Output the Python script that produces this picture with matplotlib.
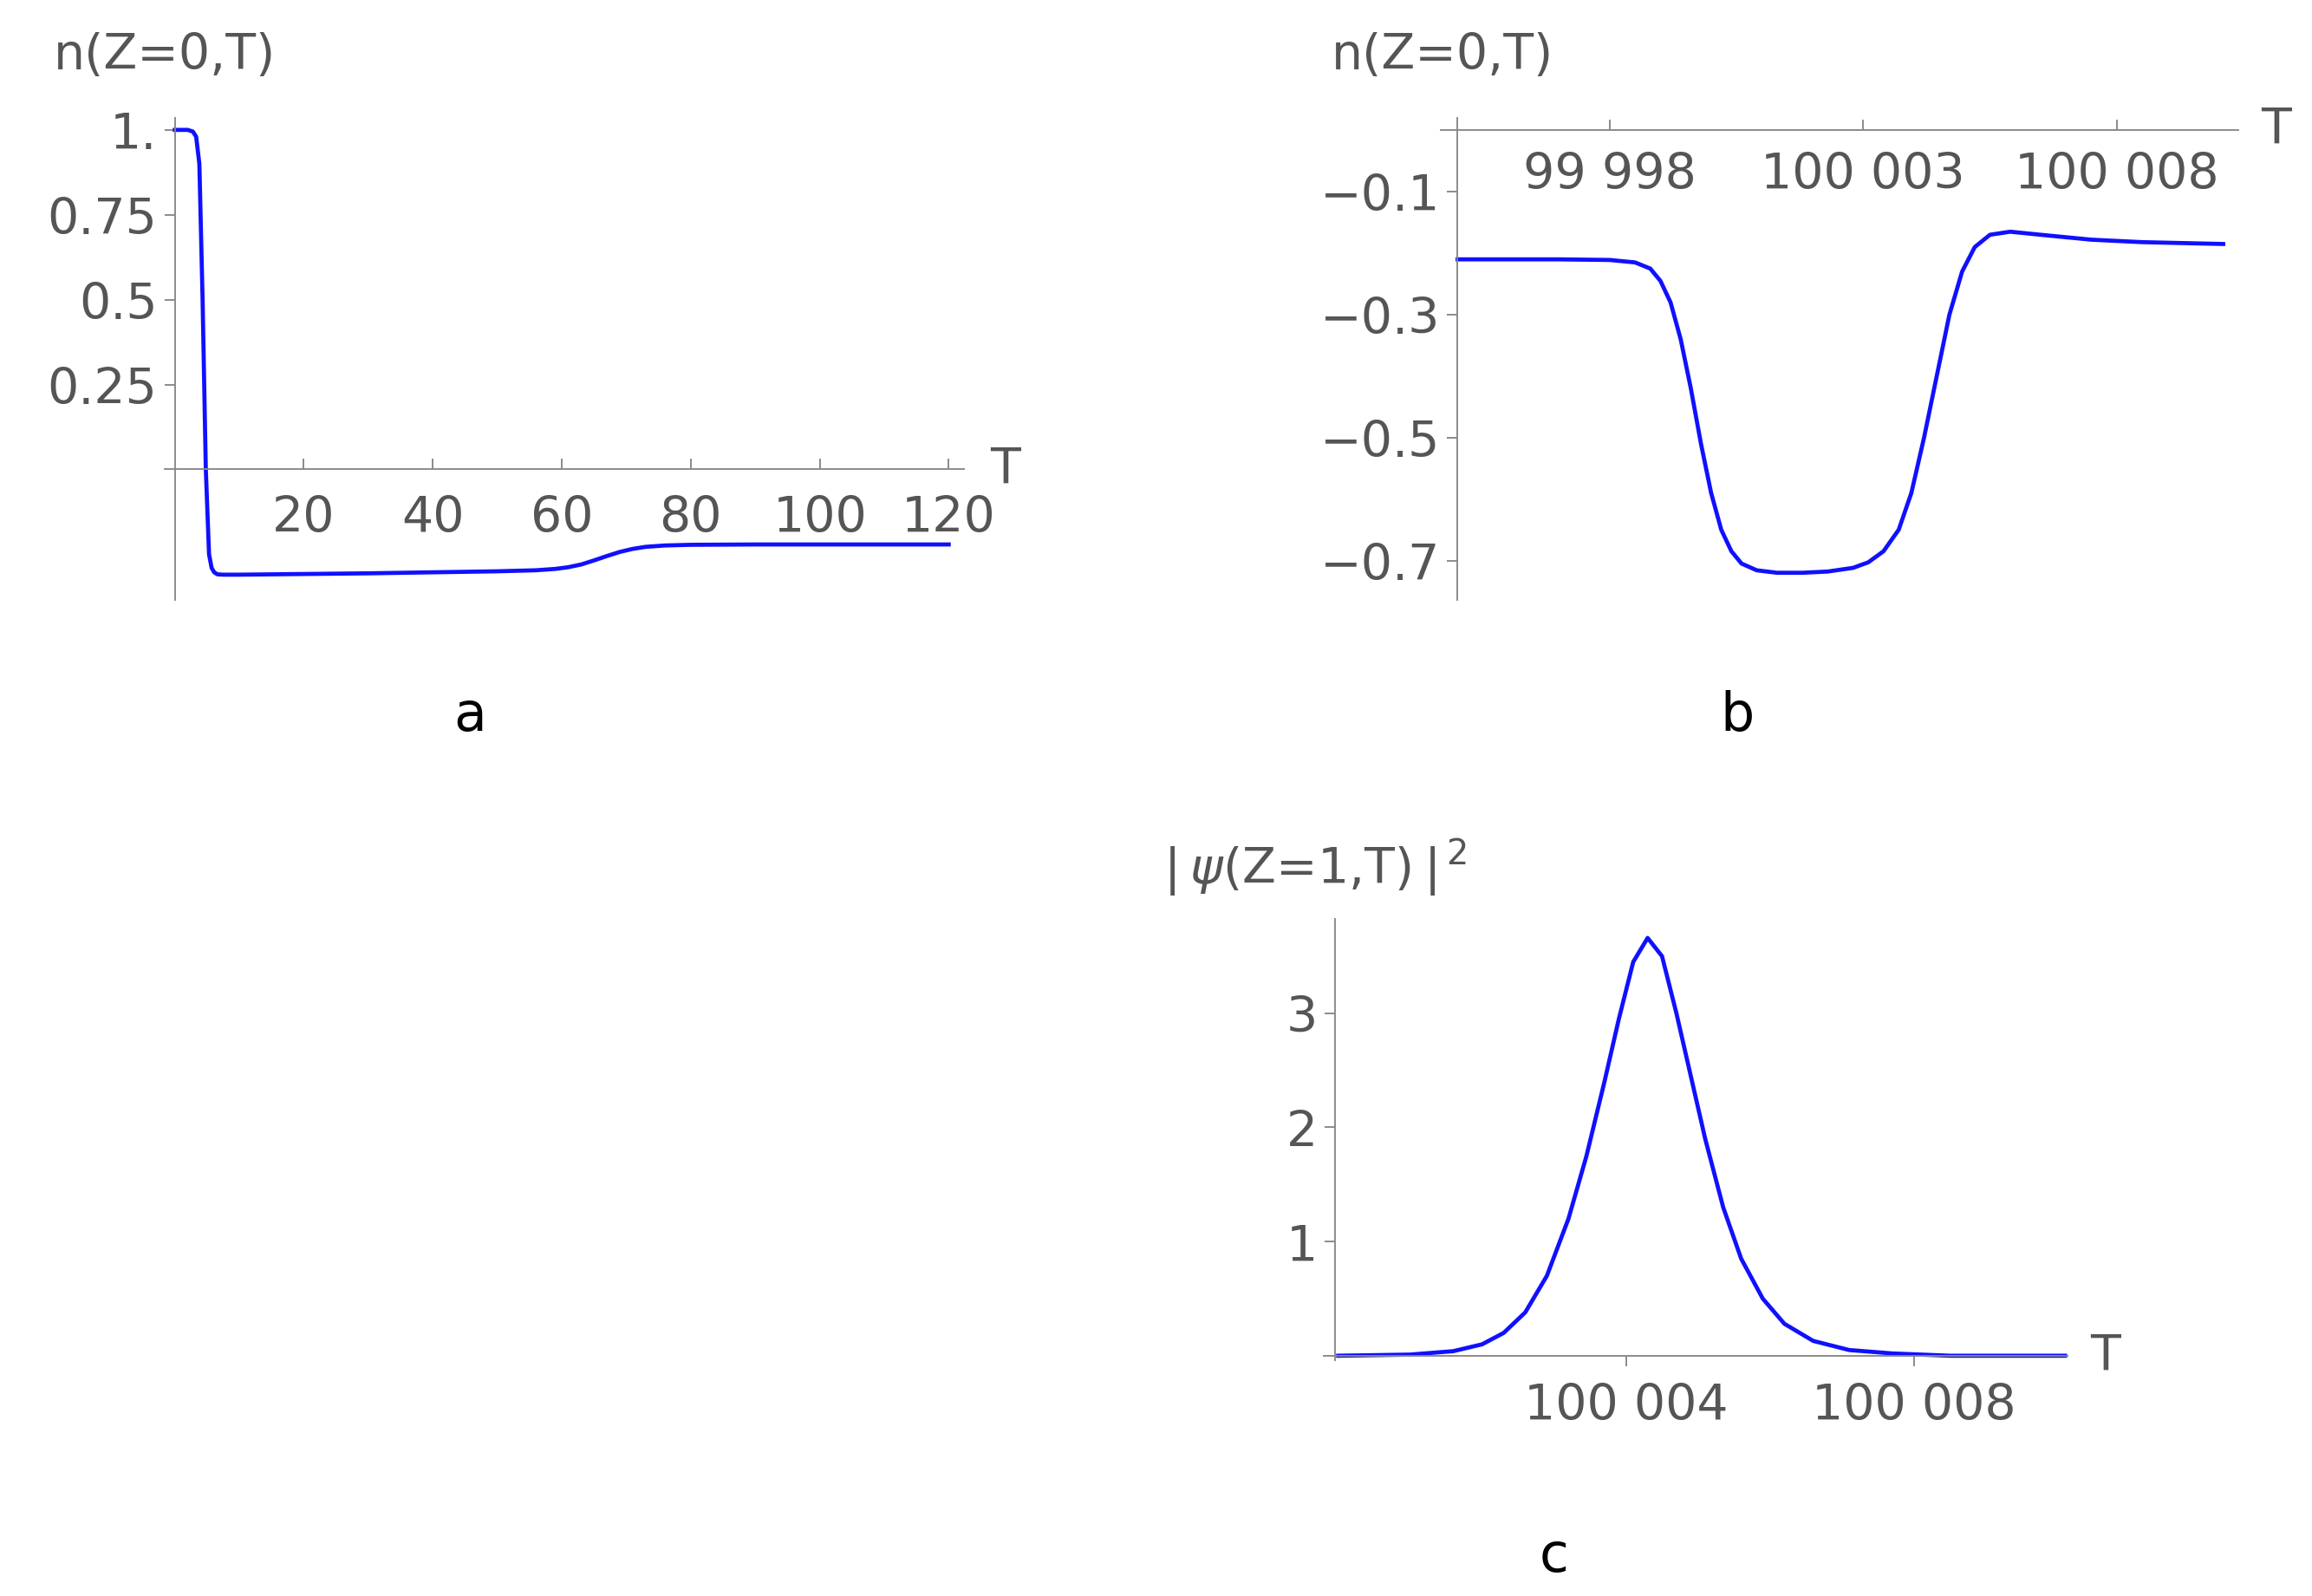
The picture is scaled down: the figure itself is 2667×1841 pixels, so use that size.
import matplotlib.pyplot as plt

W, H = 1560.0, 1077.0
gray = "#555555"
blue = "#1010ff"

# panel a: n(Z=0,T), T in 0..120
a_T = [0, 2, 2.8, 3.3, 3.8, 4.3, 4.8, 5.3, 5.7, 6.1, 6.6, 7.5, 10, 20, 30, 40, 50, 56, 59, 61, 63, 65, 67, 69, 71, 73, 76, 80, 90, 100, 110, 120]
a_n = [1.0, 1.0, 0.995, 0.98, 0.9, 0.5, 0.0, -0.25, -0.29, -0.303, -0.309, -0.31, -0.31, -0.308, -0.306, -0.303, -0.3, -0.297, -0.293, -0.288, -0.28, -0.268, -0.255, -0.243, -0.234, -0.228, -0.224, -0.222, -0.221, -0.221, -0.221, -0.221]

# panel b: n(Z=0,T) near T = 100000
b_T = [99995.0, 99997, 99998.0, 99998.5, 99998.8, 99999.0, 99999.2, 99999.4, 99999.6, 99999.8, 100000.0, 100000.2, 100000.4, 100000.6, 100000.9, 100001.3, 100001.8, 100002.3, 100002.8, 100003.1, 100003.4, 100003.7, 100003.95, 100004.2, 100004.45, 100004.7, 100004.95, 100005.2, 100005.5, 100005.9, 100006.5, 100007.5, 100008.5, 100010.1]
b_n = [-0.21, -0.21, -0.211, -0.215, -0.225, -0.245, -0.28, -0.34, -0.42, -0.51, -0.59, -0.65, -0.685, -0.705, -0.716, -0.72, -0.72, -0.718, -0.712, -0.703, -0.685, -0.65, -0.59, -0.5, -0.4, -0.3, -0.23, -0.19, -0.17, -0.165, -0.17, -0.178, -0.182, -0.185]

# panel c: |psi(Z=1,T)|^2
c_T = [100000.0, 100001.0, 100001.6, 100002.0, 100002.3, 100002.6, 100002.9, 100003.2, 100003.45, 100003.7, 100003.9, 100004.1, 100004.3, 100004.5, 100004.7, 100004.9, 100005.1, 100005.35, 100005.6, 100005.9, 100006.2, 100006.6, 100007.1, 100007.7, 100008.5, 100010.1]
c_y = [0.0, 0.01, 0.04, 0.1, 0.2, 0.38, 0.7, 1.2, 1.75, 2.4, 2.95, 3.45, 3.66, 3.5, 3.0, 2.45, 1.9, 1.3, 0.85, 0.5, 0.28, 0.13, 0.05, 0.02, 0.0, 0.0]

fig = plt.figure(figsize=(15.6, 10.77), dpi=171)

def box(x0, x1, y0, y1):
    return [x0 / W, 1 - y1 / H, (x1 - x0) / W, (y1 - y0) / H]

def style(ax, xpos, ypos):
    for s in ["top", "right"]:
        ax.spines[s].set_visible(False)
    ax.spines["left"].set_position(("data", xpos))
    ax.spines["bottom"].set_position(("data", ypos))
    for s in ["left", "bottom"]:
        ax.spines[s].set_color("#888888")
    ax.tick_params(colors="#888888", labelcolor=gray, labelsize=24, length=5)
    ax.patch.set_alpha(0)

# a
ax = fig.add_axes(box(111, 650, 80, 405))
ax.plot(a_T, a_n, color=blue, lw=2)
ax.set_xlim(-1.6, 122.3)
ax.set_ylim(-0.384, 1.035)
style(ax, 0, 0)
ax.set_xticks([20, 40, 60, 80, 100, 120])
ax.set_yticks([0.25, 0.5, 0.75, 1.0])
ax.set_yticklabels(["0.25", "0.5", "0.75", "1."])
ax.tick_params(axis="x", direction="in", pad=12)
fig.text(36 / W, 1 - 38 / H, "n(Z=0,T)", color=gray, fontsize=24, va="center")
fig.text(668 / W, 1 - 317 / H, "T", color=gray, fontsize=24, va="center")
fig.text(317 / W, 1 - 483 / H, "a", fontsize=26, ha="center", va="center")

# b
ax = fig.add_axes(box(972, 1510, 80, 405))
ax.plot(b_T, b_n, color=blue, lw=2)
ax.set_xlim(99994.67, 100010.4)
ax.set_ylim(-0.764, 0.02)
style(ax, 99995.0, 0)
ax.set_xticks([99998, 100003, 100008])
ax.set_xticklabels(["99 998", "100 003", "100 008"])
ax.set_yticks([-0.1, -0.3, -0.5, -0.7])
ax.set_yticklabels(["\u22120.1", "\u22120.3", "\u22120.5", "\u22120.7"])
ax.tick_params(axis="x", direction="in", pad=10)
fig.text(898 / W, 1 - 38 / H, "n(Z=0,T)", color=gray, fontsize=24, va="center")
fig.text(1525 / W, 1 - 88 / H, "T", color=gray, fontsize=24, va="center")
fig.text(1172 / W, 1 - 483 / H, "b", fontsize=26, ha="center", va="center")

# c
ax = fig.add_axes(box(893, 1395, 620, 918))
ax.plot(c_T, c_y, color=blue, lw=2)
ax.set_xlim(99999.8, 100010.14)
ax.set_ylim(-0.04, 3.83)
style(ax, 99999.96, 0)
ax.set_xticks([100004, 100008])
ax.set_xticklabels(["100 004", "100 008"])
ax.set_yticks([1, 2, 3])
ax.tick_params(axis="x", pad=8)
fig.text(785 / W, 1 - 585 / H, "|\u2009$\\psi$(Z=1,T)\u2009|$^{\\,2}$", color=gray, fontsize=24, va="center")
fig.text(1410 / W, 1 - 915 / H, "T", color=gray, fontsize=24, va="center")
fig.text(1048 / W, 1 - 1050 / H, "c", fontsize=26, ha="center", va="center")

fig.savefig("out.png", dpi=171)
